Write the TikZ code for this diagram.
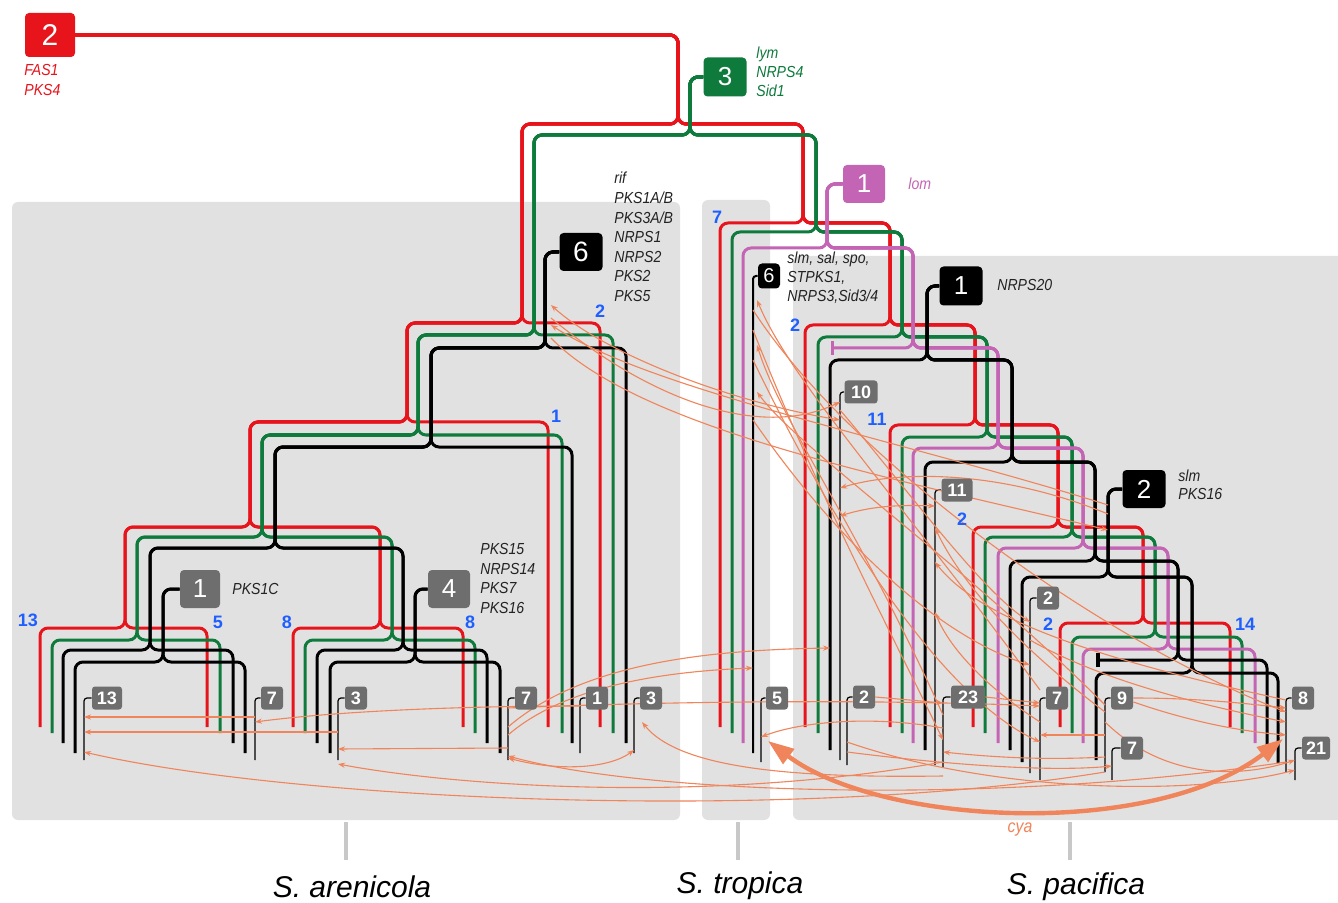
\documentclass[tikz,border=0pt]{standalone}
\usepackage{fontspec}
\setmainfont{Liberation Sans}
\newfontfamily\labf[FakeStretch=0.88]{Liberation Sans}
\usetikzlibrary{arrows.meta}
\definecolor{cred}{RGB}{232,20,28}
\definecolor{cgreen}{RGB}{14,122,60}
\definecolor{cmag}{RGB}{196,100,180}
\definecolor{cor}{RGB}{240,132,90}
\definecolor{cpanel}{RGB}{225,225,225}
\definecolor{cleaf}{RGB}{110,110,110}
\definecolor{cblue}{RGB}{31,95,255}
\definecolor{ctick}{RGB}{200,200,200}
\definecolor{ctext}{RGB}{35,35,35}
\pgfdeclarelayer{bg}
\pgfdeclarelayer{mid}
\pgfsetlayers{bg,mid,main}
\begin{document}
\begin{tikzpicture}[x=0.5pt,y=-0.5pt,
  br/.style={line width=1.5pt, rounded corners=4pt},
  hk/.style={line width=0.6pt, rounded corners=1.5pt},
  ev/.style={rounded corners=2pt, text=white, inner sep=0pt, font=\fontsize{13}{13}\selectfont},
  leaf/.style={fill=cleaf, rounded corners=1.5pt, text=white, inner sep=0pt, minimum width=11pt, minimum height=11.5pt, font=\bfseries\fontsize{9}{9}\selectfont},
  lab/.style={inner sep=0pt, align=left, text=ctext, font=\labf\itshape\fontsize{8}{9.8}\selectfont},
  bl/.style={text=cblue, inner sep=0pt, font=\bfseries\fontsize{9}{9}\selectfont},
  hgt/.style={draw=cor, line width=0.55pt, -{Stealth[length=3.5pt,width=2.6pt]}},
  hgtb/.style={draw=cor, line width=0.55pt, {Stealth[length=3.5pt,width=2.6pt]}-{Stealth[length=3.5pt,width=2.6pt]}},
  sp/.style={inner sep=0pt, font=\itshape\fontsize{15}{15}\selectfont}
]
\useasboundingbox (0,0) rectangle (1338,903);
\begin{pgfonlayer}{bg}
\fill[white] (0,0) rectangle (1338,903);
\fill[cpanel,rounded corners=3pt] (12,202) rectangle (680,820);
\fill[cpanel,rounded corners=3pt] (702,200) rectangle (770,820);
\fill[cpanel,rounded corners=3pt] (793,256) rectangle (1350,820);
\draw[ctick,line width=2pt] (346,822) -- (346,860) (738,822) -- (738,860) (1070,822) -- (1070,860);
\end{pgfonlayer}

% ---------- event boxes ----------
\node[ev, fill=cred, minimum width=25pt, minimum height=22pt, font=\fontsize{15}{15}\selectfont] (ev2) at (50,35) {2};
\node[ev, fill=cgreen, minimum width=21.5pt, minimum height=19.5pt] (ev3) at (725,77) {3};
\node[ev, fill=cmag, minimum width=21pt, minimum height=19pt] (evm) at (864,184) {1};
\node[ev, fill=black, minimum width=21.5pt, minimum height=19pt, font=\fontsize{14}{14}\selectfont] (ev6a) at (581,252) {6};
\node[ev, fill=black, minimum width=11pt, minimum height=12.5pt, font=\fontsize{10}{10}\selectfont] (ev6t) at (769,276) {6};
\node[ev, fill=black, minimum width=21.5pt, minimum height=19.5pt] (ev1n) at (961,286) {1};
\node[ev, fill=black, minimum width=21.5pt, minimum height=19pt] (ev2s) at (1144,489) {2};
\node[ev, fill=cleaf, minimum width=20pt, minimum height=19pt] (evp1) at (200,589) {1};
\node[ev, fill=cleaf, minimum width=21pt, minimum height=19pt] (ev4) at (449,589) {4};

% ---------- leaf boxes ----------
\node[leaf, minimum width=15pt] (L13) at (107,698) {13};
\node[leaf] (L7a) at (272,698) {7};
\node[leaf] (L3a) at (356,698) {3};
\node[leaf] (L7b) at (526,698) {7};
\node[leaf] (L1) at (597,698) {1};
\node[leaf] (L3b) at (651,698) {3};
\node[leaf] (L5) at (777,698) {5};
\node[leaf, minimum width=16.5pt] (L10) at (861,392) {10};
\node[leaf, minimum width=15.5pt] (L11) at (957,490) {11};
\node[leaf] (L2a) at (1048,598) {2};
\node[leaf] (L2b) at (864,697) {2};
\node[leaf, minimum width=17pt] (L23) at (968,697) {23};
\node[leaf] (L7c) at (1057,698) {7};
\node[leaf] (L9) at (1122,698) {9};
\node[leaf] (L7d) at (1132,748) {7};
\node[leaf] (L8) at (1303,698) {8};
\node[leaf, minimum width=14pt] (L21) at (1316,748) {21};

\coordinate (h13) at (84,760);  \coordinate (h7a) at (255,760);
\coordinate (h3a) at (338,760); \coordinate (h7b) at (508,760);
\coordinate (h1) at (580,753);  \coordinate (h3b) at (634,753);
\coordinate (h5) at (761,762);  \coordinate (h10) at (840,760);
\coordinate (h11) at (935,765); \coordinate (h2a) at (1030,773);
\coordinate (h2b) at (847,765); \coordinate (h23) at (943,767);
\coordinate (h7c) at (1040,780); \coordinate (h9) at (1105,772);
\coordinate (h7d) at (1112,780); \coordinate (h8) at (1286,772);
\coordinate (h21) at (1295,780);
\coordinate (t6) at (753,753); \coordinate (p830) at (830,750);
\coordinate (ks) at (1108,577); \coordinate (ba6) at (551,348);
\coordinate (cyaL) at (768,741); \coordinate (cyaR) at (1283,739);

% ---------- labels ----------
\node[lab, text=cred, anchor=north west, font=\labf\itshape\fontsize{8}{10}\selectfont] (tfas) at (24,64) {FAS1\\PKS4};
\node[lab, text=cgreen, anchor=north west, font=\labf\itshape\fontsize{8}{9.3}\selectfont] (tlym) at (756,47) {lym\\NRPS4\\Sid1};
\node[lab, anchor=north west] (trif) at (614,172) {rif\\PKS1A/B\\PKS3A/B\\NRPS1\\NRPS2\\PKS2\\PKS5};
\node[lab, anchor=north west, font=\labf\itshape\fontsize{8}{9.3}\selectfont] (tslm) at (787,252) {slm, sal, spo,\\STPKS1,\\NRPS3,Sid3/4};
\node[lab, text=cmag, anchor=west] (tlom) at (908,184) {lom};
\node[lab, anchor=west] (tnrps) at (997,285) {NRPS20};
\node[lab, anchor=north west, font=\labf\itshape\fontsize{8}{9}\selectfont] (tslm2) at (1178,470) {slm\\PKS16};
\node[lab, anchor=west] (tpks1c) at (232,589) {PKS1C};
\node[lab, anchor=north west] (tpks15) at (480,543) {PKS15\\NRPS14\\PKS7\\PKS16};
\node[lab, text=cor, font=\labf\itshape\fontsize{9}{9}\selectfont] (tcya) at (1020,830) {cya};

\node[bl] (b1) at (28,620) {13};
\node[bl] (b2) at (218,622) {5};
\node[bl] (b3) at (287,622) {8};
\node[bl] (b4) at (470,622) {8};
\node[bl] (b5) at (556,416) {1};
\node[bl] (b6) at (600,311) {2};
\node[bl] (b7) at (717,217) {7};
\node[bl] (b8) at (795,325) {2};
\node[bl] (b9) at (877,419) {11};
\node[bl] (b10) at (962,519) {2};
\node[bl] (b11) at (1048,624) {2};
\node[bl] (b12) at (1245,624) {14};

\node[sp] (sar) at (352,887) {S. arenicola};
\node[sp] (str) at (740,886) {S. tropica};
\node[sp] (spa) at (1076,887) {S. pacifica};

\begin{pgfonlayer}{mid}
% ---------- red lineage ----------
\draw[br,cred] (ev2.east) -- (678,35) |- (522,124) |- (407,323) |- (250,422) |- (125,527) |- (40,628) -- (40,727);
\draw[br,cred] (ev2.east) -- (678,35) |- (522,124) |- (407,323) |- (250,422) |- (125,527) |- (207,628) -- (207,727);
\draw[br,cred] (ev2.east) -- (678,35) |- (522,124) |- (407,323) |- (250,422) |- (380,527) |- (293,628) -- (293,727);
\draw[br,cred] (ev2.east) -- (678,35) |- (522,124) |- (407,323) |- (250,422) |- (380,527) |- (463,628) -- (463,727);
\draw[br,cred] (ev2.east) -- (678,35) |- (522,124) |- (407,323) |- (548,422) -- (548,727);
\draw[br,cred] (ev2.east) -- (678,35) |- (522,124) |- (600,323) -- (600,727);
\draw[br,cred] (ev2.east) -- (678,35) |- (803,124) |- (720,223) -- (720,727);
\draw[br,cred] (ev2.east) -- (678,35) |- (803,124) |- (890,223) |- (805,325) -- (805,727);
\draw[br,cred] (ev2.east) -- (678,35) |- (803,124) |- (890,223) |- (975,325) |- (890,425) -- (890,727);
\draw[br,cred] (ev2.east) -- (678,35) |- (803,124) |- (890,223) |- (975,325) |- (1058,425) |- (973,527) -- (973,727);
\draw[br,cred] (ev2.east) -- (678,35) |- (803,124) |- (890,223) |- (975,325) |- (1058,425) |- (1143,527) |- (1060,623) -- (1060,727);
\draw[br,cred] (ev2.east) -- (678,35) |- (803,124) |- (890,223) |- (975,325) |- (1058,425) |- (1143,527) |- (1230,623) -- (1230,727);
% ---------- green lineage ----------
\draw[br,cgreen] (ev3.west) -- (690,77) |- (534,135) |- (418,335) |- (262,435) |- (137,537) |- (52,640) -- (52,733);
\draw[br,cgreen] (ev3.west) -- (690,77) |- (534,135) |- (418,335) |- (262,435) |- (137,537) |- (220,640) -- (220,733);
\draw[br,cgreen] (ev3.west) -- (690,77) |- (534,135) |- (418,335) |- (262,435) |- (392,537) |- (305,640) -- (305,733);
\draw[br,cgreen] (ev3.west) -- (690,77) |- (534,135) |- (418,335) |- (262,435) |- (392,537) |- (475,640) -- (475,733);
\draw[br,cgreen] (ev3.west) -- (690,77) |- (534,135) |- (418,335) |- (562,435) -- (562,733);
\draw[br,cgreen] (ev3.west) -- (690,77) |- (534,135) |- (613,335) -- (613,733);
\draw[br,cgreen] (ev3.west) -- (690,77) |- (816,135) |- (732,232) -- (732,733);
\draw[br,cgreen] (ev3.west) -- (690,77) |- (816,135) |- (902,232) |- (818,337) -- (818,733);
\draw[br,cgreen] (ev3.west) -- (690,77) |- (816,135) |- (902,232) |- (987,337) |- (902,437) -- (902,733);
\draw[br,cgreen] (ev3.west) -- (690,77) |- (816,135) |- (902,232) |- (987,337) |- (1072,437) |- (985,537) -- (985,733);
\draw[br,cgreen] (ev3.west) -- (690,77) |- (816,135) |- (902,232) |- (987,337) |- (1072,437) |- (1155,537) |- (1072,637) -- (1072,733);
\draw[br,cgreen] (ev3.west) -- (690,77) |- (816,135) |- (902,232) |- (987,337) |- (1072,437) |- (1155,537) |- (1242,637) -- (1242,733);
% ---------- magenta lineage ----------
\draw[br,cmag] (evm.west) -- (827,184) |- (743,248) -- (743,743);
\draw[br,cmag] (evm.west) -- (827,184) |- (913,248) |- (832,348);
\draw[cmag,line width=1.5pt] (832,341) -- (832,355);
\draw[br,cmag] (evm.west) -- (827,184) |- (913,248) |- (998,348) |- (913,448) -- (913,743);
\draw[br,cmag] (evm.west) -- (827,184) |- (913,248) |- (998,348) |- (1083,448) |- (998,548) -- (998,743);
\draw[br,cmag] (evm.west) -- (827,184) |- (913,248) |- (998,348) |- (1083,448) |- (1168,548) |- (1083,649) -- (1083,743);
\draw[br,cmag] (evm.west) -- (827,184) |- (913,248) |- (998,348) |- (1083,448) |- (1168,548) |- (1255,649) -- (1255,743);
% ---------- black lineages ----------
\draw[br] (ev6a.west) -- (545,252) |- (431,348) |- (275,447) |- (150,548) |- (63,650) -- (63,743);
\draw[br] (ev6a.west) -- (545,252) |- (431,348) |- (275,447) |- (150,548) |- (233,650) -- (233,743);
\draw[br] (ev6a.west) -- (545,252) |- (431,348) |- (275,447) |- (403,548) |- (317,650) -- (317,743);
\draw[br] (ev6a.west) -- (545,252) |- (431,348) |- (275,447) |- (403,548) |- (487,650) -- (487,743);
\draw[br] (ev6a.west) -- (545,252) |- (431,348) |- (572,447) -- (572,743);
\draw[br] (ev6a.west) -- (545,252) |- (626,348) -- (626,743);
\draw[br] (evp1.west) -- (163,589) |- (75,662) -- (75,753);
\draw[br] (evp1.west) -- (163,589) |- (245,662) -- (245,753);
\draw[br] (ev4.west) -- (415,589) |- (330,662) -- (330,753);
\draw[br] (ev4.west) -- (415,589) |- (500,662) -- (500,753);
\draw[line width=1pt, rounded corners=1.5pt] (ev6t.west) -| (t6);
\draw[br] (ev1n.west) -- (927,286) |- (830,360) -- (p830);
\draw[br] (ev1n.west) -- (927,286) |- (1012,360) |- (925,462) -- (925,750);
\draw[br] (ev1n.west) -- (927,286) |- (1012,360) |- (1095,462) |- (1010,561) -- (1010,750);
\draw[br] (ev1n.west) -- (927,286) |- (1012,360) |- (1095,462) |- (1178,561) |- (1098,660);
\draw[line width=2pt] (1098,653) -- (1098,667);
\draw[br] (ev1n.west) -- (927,286) |- (1012,360) |- (1095,462) |- (1178,561) |- (1267,660) -- (1267,748);
\draw[br] (ev2s.west) -- (1108,489) |- (1022,577) -- (1022,762);
\draw[br] (ev2s.west) -- (1108,489) |- (1192,577) |- (1096,673) -- (1096,760);
\draw[br] (ev2s.west) -- (1108,489) |- (1192,577) |- (1278,673) -- (1278,763);
% ---------- leaf hooks ----------
\foreach \l/\h in {L13/h13,L7a/h7a,L3a/h3a,L7b/h7b,L1/h1,L3b/h3b,L5/h5,L10/h10,L11/h11,L2a/h2a,L2b/h2b,L23/h23,L7c/h7c,L9/h9,L7d/h7d,L8/h8,L21/h21}
  \draw[hk] (\l.west) -| (\h);
% ---------- orange transfers ----------
\draw[hgt] (h7a |- 0,717) -- (h13 |- 0,717);
\draw[hgt] (h3a |- 0,732) -- (h13 |- 0,732);
\draw[hgt] (h1 |- 0,706) .. controls (450,706) and (330,712) .. (h7a |- 0,722);
\draw[hgt] (h7b |- 0,748) -- (h3a |- 0,749);
\draw[hgt] (h23 |- 0,762) .. controls (700,805) and (450,785) .. (h3a |- 0,764);
\draw[hgt] (h9 |- 0,772) .. controls (800,822) and (300,802) .. (h13 |- 0,752);
\draw[hgt] (h8 |- 0,762) .. controls (1000,805) and (650,795) .. (h7b |- 0,756);
\draw[hgt] (h7b |- 0,735) .. controls (560,690) and (650,672) .. (t6 |- 0,668);
\draw[hgt] (h7b |- 0,727) .. controls (580,665) and (700,650) .. (p830 |- 0,648);
\draw[hgtb] (h7b |- 0,758) .. controls (560,772) and (610,768) .. (h3b |- 0,750);
\draw[hgt] (h23 |- 0,776) .. controls (800,778) and (680,770) .. ([xshift=4pt]h3b |- 0,722);
\draw[hgt] (h23 |- 0,728) .. controls (870,715) and (800,722) .. (h5 |- 0,737);
\draw[hgt] (h7b |- 0,708) .. controls (700,700) and (900,700) .. (h7c |- 0,706);
\draw[hgt] (h7c |- 0,690) .. controls (900,500) and (790,380) .. ([xshift=2pt]t6 |- 0,300);
\draw[hgt] (h23 |- 0,715) .. controls (860,530) and (780,420) .. ([xshift=2pt]t6 |- 0,345);
\draw[hgt] (h9 |- 0,705) .. controls (960,560) and (800,450) .. ([xshift=2pt]t6 |- 0,392);
\draw[hgt] (t6 |- 0,310) .. controls (850,460) and (1100,640) .. (h8 |- 0,712);
\draw[hgt] (t6 |- 0,330) .. controls (820,500) and (900,650) .. (h23 |- 0,740);
\draw[hgt] (t6 |- 0,360) .. controls (850,560) and (950,700) .. (h7c |- 0,742);
\draw[hgt] (t6 |- 0,420) .. controls (850,560) and (950,640) .. (h2a |- 0,665);
\draw[hgtb] (ba6 |- 0,305) .. controls (600,350) and (720,400) .. (h10 |- 0,420);
\draw[hgt] (ks |- 0,505) .. controls (900,440) and (650,390) .. (ba6 |- 0,325);
\draw[hgt] (ba6 |- 0,338) .. controls (640,430) and (900,480) .. (ks |- 0,530);
\draw[hgt] (ba6 |- 0,318) .. controls (650,400) and (760,440) .. (h10 |- 0,402);
\draw[hgt] (ks |- 0,514) .. controls (1000,470) and (900,470) .. (h10 |- 0,488);
\draw[hgtb] (h10 |- 0,516) .. controls (875,505) and (905,505) .. (h11 |- 0,506);
\draw[hgt] (h9 |- 0,712) .. controls (1010,640) and (960,580) .. (h11 |- 0,528);
\draw[hgt] (h8 |- 0,700) .. controls (1100,660) and (980,620) .. (h11 |- 0,562);
\draw[hgt] (h7c |- 0,722) .. controls (990,690) and (950,650) .. (h11 |- 0,612);
\draw[hgt] (h10 |- 0,410) .. controls (900,480) and (980,590) .. (h2a |- 0,622);
\draw[hgt] (h2a |- 0,640) .. controls (1100,680) and (1200,705) .. (h8 |- 0,722);
\draw[hgt] (L9.east) .. controls (1200,698) and (1250,704) .. (h8 |- 0,708);
\draw[hgt] ([yshift=-2pt]L9.east) .. controls (1200,725) and (1250,732) .. (h8 |- 0,735);
\draw[hgt] (h9 |- 0,722) .. controls (1170,785) and (1250,775) .. (h21 |- 0,760);
\draw[hgt] (h9 |- 0,757) .. controls (1050,760) and (1000,758) .. (h23 |- 0,752);
\draw[hgt] (L23.east) -- (h7c |- 0,703);
\draw[hgt] (L2b.east) -- (h23 |- 0,703);
\draw[hgt] (h2b |- 0,742) .. controls (1000,795) and (1200,795) .. (h21 |- 0,770);
\draw[hgt] (h2b |- 0,752) .. controls (950,765) and (1050,772) .. (h7d |- 0,766);
\draw[hgt] (h9 |- 0,735) -- (h7c |- 0,735);
\draw[cor, line width=2.2pt, {Triangle[length=13pt,width=9pt]}-{Triangle[length=13pt,width=9pt]}] (cyaL) .. controls (880,825) and (1150,840) .. (cyaR);
\end{pgfonlayer}
\end{tikzpicture}
\end{document}
